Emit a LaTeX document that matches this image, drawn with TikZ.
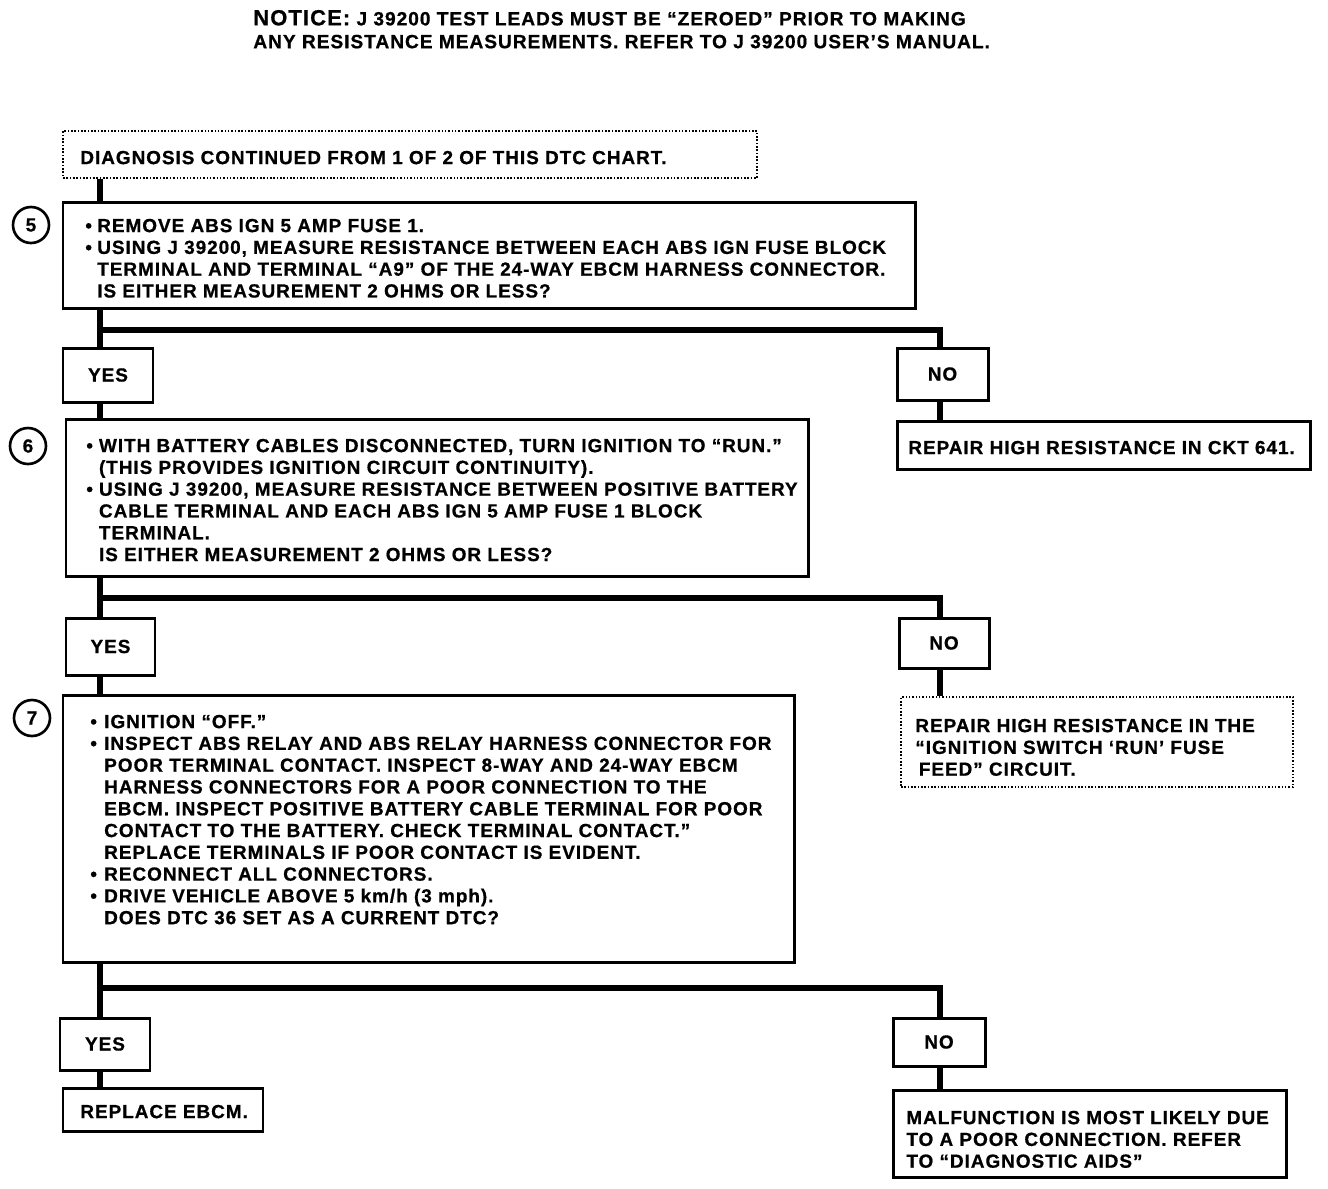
\documentclass[tikz,border=0pt]{standalone}
\usepackage{fontspec}
\setmainfont{Liberation Sans}[LetterSpace=5, BoldFeatures={FakeBold=0.7}]
\usetikzlibrary{fit}
\begin{document}
\begin{tikzpicture}[x=0.02cm,y=-0.02cm,
  every node/.style={font=\fontsize{10.8}{12.4}\selectfont\bfseries},
  box/.style={draw, line width=1.7pt, inner sep=0pt},
  dotbox/.style={draw, line width=0.9pt, densely dotted, inner sep=0pt},
  txt/.style={anchor=north west, inner sep=0pt, align=left},
  yn/.style={draw, line width=1.7pt, inner sep=0pt},
  conn/.style={line width=3.4pt},
  num/.style={circle, draw, line width=1.5pt, minimum size=36*0.02cm, inner sep=0pt}]
\useasboundingbox (0,0) rectangle (1328,1188);
\coordinate (spine) at (100,0);
\coordinate (rs) at (940,0);
% notice
\node[txt, font=\fontsize{10.9}{13}\selectfont\bfseries] (notice) at (253,9) {\strut{\fontsize{12.5}{13}\selectfont NOTICE:} J 39200 TEST LEADS MUST BE “ZEROED” PRIOR TO MAKING\\ANY RESISTANCE MEASUREMENTS. REFER TO J 39200 USER’S MANUAL.};
% start box
\node[dotbox, fit={(63,131) (757,178)}] (dc) {};
\node[txt] (tdc) at (80,148.5) {\strut DIAGNOSIS CONTINUED FROM 1 OF 2 OF THIS DTC CHART.};
% step 5
\node[box, fit={(63,202) (915,308)}] (b5) {};
\node[num] (c5) at (31,225) {5};
\node[txt] (t5) at (85,216.5) {\strut\makebox[6.8pt][l]{•}REMOVE ABS IGN 5 AMP FUSE 1.\\
\makebox[6.8pt][l]{•}USING J 39200, MEASURE RESISTANCE BETWEEN EACH ABS IGN FUSE BLOCK\\
\hspace*{6.8pt}TERMINAL AND TERMINAL “A9” OF THE 24-WAY EBCM HARNESS CONNECTOR.\\
\hspace*{6.8pt}IS EITHER MEASUREMENT 2 OHMS OR LESS?};
\node[yn, minimum width=90*0.02cm, minimum height=54*0.02cm] (y1) at (108,375) {YES};
\node[yn, minimum width=91*0.02cm, minimum height=52*0.02cm] (n1) at (942.5,374) {NO};
\node[box, fit={(897,421) (1310,469)}] (r1) {};
\node[txt] (tr1) at (908,438.5) {\strut REPAIR HIGH RESISTANCE IN CKT 641.};
% step 6
\node[box, fit={(66,419) (808,576)}] (b6) {};
\node[num] (c6) at (28,446) {6};
\node[txt] (t6) at (86,436.5) {\strut\makebox[7.2pt][l]{•}WITH BATTERY CABLES DISCONNECTED, TURN IGNITION TO “RUN.”\\
\hspace*{7.2pt}(THIS PROVIDES IGNITION CIRCUIT CONTINUITY).\\
\makebox[7.2pt][l]{•}USING J 39200, MEASURE RESISTANCE BETWEEN POSITIVE BATTERY\\
\hspace*{7.2pt}CABLE TERMINAL AND EACH ABS IGN 5 AMP FUSE 1 BLOCK\\
\hspace*{7.2pt}TERMINAL.\\
\hspace*{7.2pt}IS EITHER MEASUREMENT 2 OHMS OR LESS?};
\node[yn, minimum width=89*0.02cm, minimum height=57*0.02cm] (y2) at (110.5,646.5) {YES};
\node[yn, minimum width=90*0.02cm, minimum height=50*0.02cm] (n2) at (944,643) {NO};
\node[dotbox, fit={(901,697) (1293,787)}] (r2) {};
\node[txt] (tr2) at (915,716.5) {\strut REPAIR HIGH RESISTANCE IN THE\\“IGNITION SWITCH ‘RUN’ FUSE\\\hspace*{2pt}FEED” CIRCUIT.};
% step 7
\node[box, fit={(63,695) (794,962)}] (b7) {};
\node[num] (c7) at (32,718) {7};
\node[txt] (t7) at (90,712.5) {\strut\makebox[7.9pt][l]{•}IGNITION “OFF.”\\
\makebox[7.9pt][l]{•}INSPECT ABS RELAY AND ABS RELAY HARNESS CONNECTOR FOR\\
\hspace*{7.9pt}POOR TERMINAL CONTACT. INSPECT 8-WAY AND 24-WAY EBCM\\
\hspace*{7.9pt}HARNESS CONNECTORS FOR A POOR CONNECTION TO THE\\
\hspace*{7.9pt}EBCM. INSPECT POSITIVE BATTERY CABLE TERMINAL FOR POOR\\
\hspace*{7.9pt}CONTACT TO THE BATTERY. CHECK TERMINAL CONTACT.”\\
\hspace*{7.9pt}REPLACE TERMINALS IF POOR CONTACT IS EVIDENT.\\
\makebox[7.9pt][l]{•}RECONNECT ALL CONNECTORS.\\
\makebox[7.9pt][l]{•}DRIVE VEHICLE ABOVE 5 km/h (3 mph).\\
\hspace*{7.9pt}DOES DTC 36 SET AS A CURRENT DTC?};
\node[yn, minimum width=90*0.02cm, minimum height=52*0.02cm] (y3) at (105,1044) {YES};
\node[yn, minimum width=92*0.02cm, minimum height=48*0.02cm] (n3) at (939,1042) {NO};
\node[box, fit={(63,1088) (263,1131)}] (r3) {};
\node[txt] (tr3) at (80,1102.5) {\strut REPLACE EBCM.};
\node[box, fit={(893,1090) (1286,1177)}] (r4) {};
\node[txt] (tr4) at (906,1108.5) {\strut MALFUNCTION IS MOST LIKELY DUE\\TO A POOR CONNECTION. REFER\\TO “DIAGNOSTIC AIDS”};
% connectors
\coordinate (j1) at (100,330);
\coordinate (j2) at (100,598);
\coordinate (j3) at (100,988);
\draw[conn] (dc.south -| spine) -- (b5.north -| spine);
\draw[conn] (b5.south -| spine) -- (y1.north -| spine);
\draw[conn] (j1) -| (n1.north -| rs);
\draw[conn] (n1.south -| rs) -- (r1.north -| rs);
\draw[conn] (y1.south -| spine) -- (b6.north -| spine);
\draw[conn] (b6.south -| spine) -- (y2.north -| spine);
\draw[conn] (j2) -| (n2.north -| rs);
\draw[conn] (n2.south -| rs) -- (r2.north -| rs);
\draw[conn] (y2.south -| spine) -- (b7.north -| spine);
\draw[conn] (b7.south -| spine) -- (y3.north -| spine);
\draw[conn] (j3) -| (n3.north -| rs);
\draw[conn] (y3.south -| spine) -- (r3.north -| spine);
\draw[conn] (n3.south -| rs) -- (r4.north -| rs);
\end{tikzpicture}
\end{document}
